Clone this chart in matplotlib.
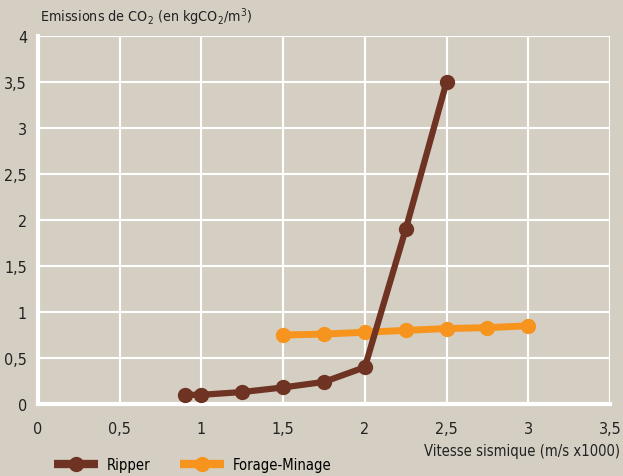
import matplotlib.pyplot as plt
from matplotlib.ticker import MultipleLocator, FuncFormatter

# Seismic speed (m/s x1000) vs CO2 emissions (kgCO2/m3)
ripper_x = [0.9, 1.0, 1.25, 1.5, 1.75, 2.0, 2.25, 2.5]
ripper_y = [0.10, 0.10, 0.13, 0.18, 0.24, 0.40, 1.90, 3.50]
forage_x = [1.5, 1.75, 2.0, 2.25, 2.5, 2.75, 3.0]
forage_y = [0.75, 0.76, 0.78, 0.80, 0.82, 0.83, 0.85]

bg = '#d4cfc2'
brown = '#6e3322'
orange = '#f7941d'
txt = '#222222'

plt.rcParams['font.family'] = ['DejaVu Sans']
plt.rcParams['font.stretch'] = 'condensed'
plt.rcParams['mathtext.default'] = 'regular'

fig = plt.figure(figsize=(6.23, 4.77), dpi=100, facecolor=bg)
ax = fig.add_axes([38/623, 72/477, 572/623, 368/477], facecolor=bg)

ax.plot(forage_x, forage_y, color=orange, lw=5, marker='o', ms=10,
        solid_capstyle='round', label='Forage-Minage', zorder=3)
ax.plot(ripper_x, ripper_y, color=brown, lw=4.5, marker='o', ms=10,
        solid_joinstyle='round', label='Ripper', zorder=4)

ax.set_xlim(0, 3.5)
ax.set_ylim(0, 4)
ax.xaxis.set_major_locator(MultipleLocator(0.5))
ax.yaxis.set_major_locator(MultipleLocator(0.5))
fmt = FuncFormatter(lambda v, p: ('%g' % v).replace('.', ','))
ax.xaxis.set_major_formatter(fmt)
ax.yaxis.set_major_formatter(fmt)
ax.grid(True, color='white', lw=1.5, zorder=0)
ax.set_axisbelow(True)
for s in ['top', 'right']:
    ax.spines[s].set_visible(False)
for s in ['left', 'bottom']:
    ax.spines[s].set_color('white')
    ax.spines[s].set_linewidth(3)
ax.tick_params(length=0, labelsize=11.5, colors=txt)
ax.tick_params(axis='x', pad=12)
ax.tick_params(axis='y', pad=8)

fig.text(40/623, 1 - 17/477, 'Emissions de CO$_2$ (en kgCO$_2$/m$^3$)',
         fontsize=10.3, color=txt, va='center', ha='left')
fig.text(620/623, 1 - 452/477, 'Vitesse sismique (m/s x1000)',
         fontsize=10.6, color=txt, va='center', ha='right')

h, l = ax.get_legend_handles_labels()
leg = fig.legend(h[::-1], l[::-1], loc='center left', bbox_to_anchor=(54/623, 1 - 466/477),
                 ncol=2, frameon=False, fontsize=10.6, handlelength=3.0, columnspacing=2.0,
                 handletextpad=0.6, borderpad=0, borderaxespad=0)
for ln in leg.get_lines():
    ln.set_linewidth(6)
    ln.set_solid_capstyle('butt')

fig.savefig('out.png', dpi=100, facecolor=bg)
